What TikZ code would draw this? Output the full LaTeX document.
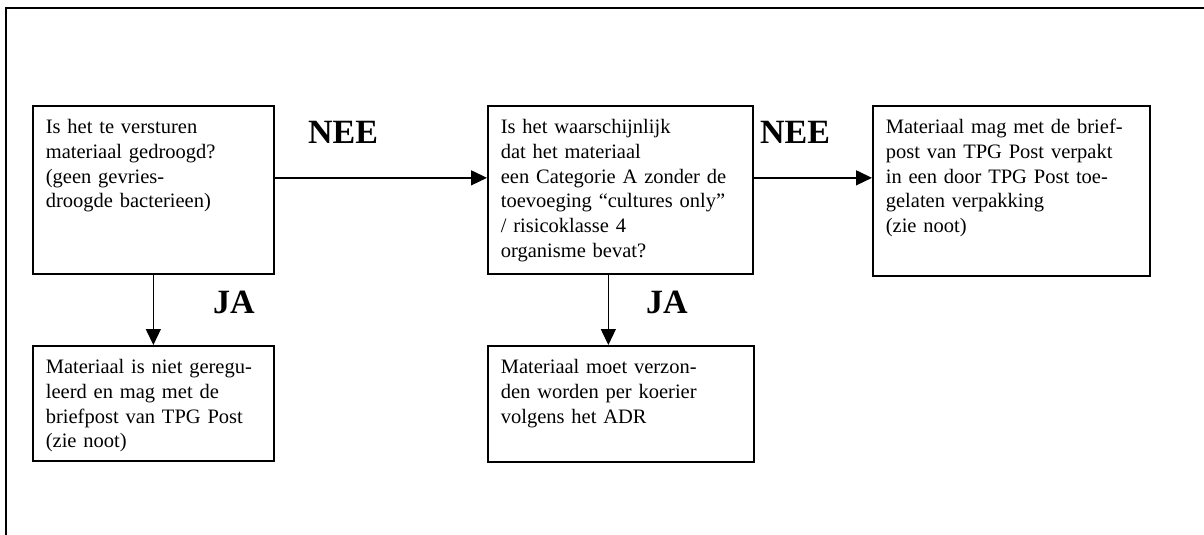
\documentclass[tikz,border=0pt]{standalone}
\usepackage{fontspec}
\setmainfont{Liberation Serif}
\usepackage{tikz}
\usetikzlibrary{arrows.meta}

\tikzset{
  vak/.style={draw, line width=1.7pt, anchor=north west, align=left,
    inner xsep=13pt, inner ysep=12pt, text height=16pt,
    font=\fontsize{20.5}{24.7}\selectfont},
  pijl/.style={line width=1.4pt, -{Triangle[length=16pt,width=15pt]}},
  antwoord/.style={font=\fontsize{34}{38}\selectfont\bfseries}
}

\begin{document}
\begin{tikzpicture}[x=1pt,y=-1pt]

\useasboundingbox (0,0) rectangle (1204,535);

% Kader (links en boven)
\draw[line width=1.8pt] (6,535) -- (6,8) -- (1204,8);

% Vraag 1
\node[vak, text width=215pt, text depth=128pt] (vraag1) at (32,105)
  {Is het te versturen\\ materiaal gedroogd?\\ (geen gevries-\\ droogde bacterieen)};

% Vraag 2
\node[vak, text width=239pt, text depth=128pt] (vraag2) at (487,105)
  {Is het waarschijnlijk\\ dat het materiaal\\ een Categorie A zonder de\\
   toevoeging “cultures only”\\ / risicoklasse 4\\ organisme bevat?};

% Uitkomst NEE / NEE
\node[vak, text width=251pt, text depth=130pt] (briefpost) at (872,105)
  {Materiaal mag met de brief-\\ post van TPG Post verpakt\\
   in een door TPG Post toe-\\ gelaten verpakking\\ (zie noot)};

% Uitkomst JA bij vraag 1
\node[vak, text width=215pt, text depth=75pt] (vrij) at (32,345)
  {Materiaal is niet geregu-\\ leerd en mag met de\\ briefpost van TPG Post\\ (zie noot)};

% Uitkomst JA bij vraag 2
\node[vak, text width=240pt, text depth=76pt] (koerier) at (487,345)
  {Materiaal moet verzon-\\ den worden per koerier\\ volgens het ADR};

% Pijlen
\draw[pijl] ([yshift=12pt]vraag1.east) -- ([yshift=12pt]vraag1.east -| vraag2.west);
\draw[pijl] ([yshift=12pt]vraag2.east) -- ([yshift=12pt]vraag2.east -| briefpost.west);
\draw[pijl] (vraag1.south) -- (vrij.north);
\draw[pijl] ([xshift=-12pt]vraag2.south) -- ([xshift=-12pt]vraag2.south |- koerier.north);

% Antwoorden
\node[antwoord] (nee1) at (343,132) {NEE};
\node[antwoord] (nee2) at (795,132) {NEE};
\node[antwoord] (ja1) at (234,302) {JA};
\node[antwoord] (ja2) at (667,302) {JA};

\end{tikzpicture}
\end{document}
